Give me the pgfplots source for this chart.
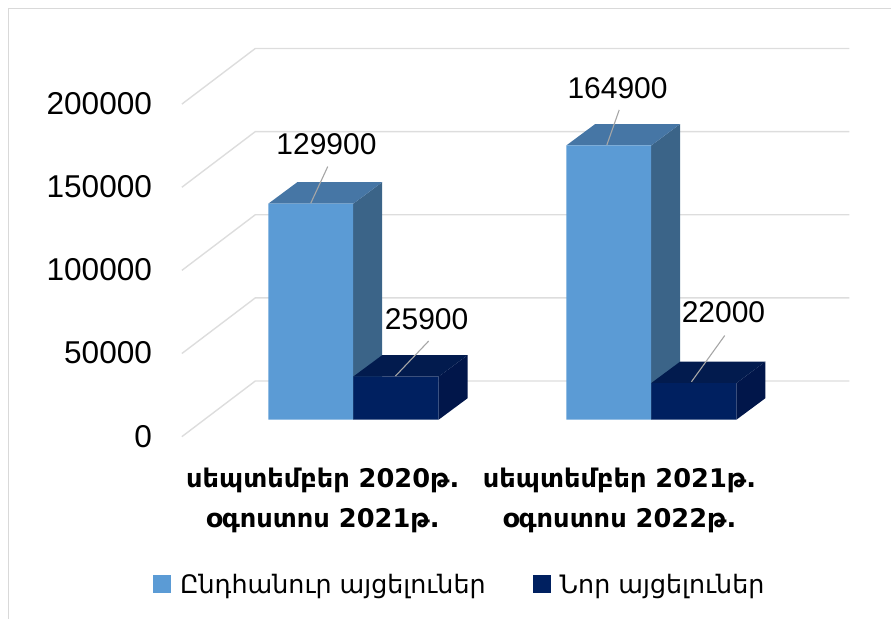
\documentclass[border=0pt]{standalone}
\usepackage{fontspec}
\usepackage{pgfplots}
\pgfplotsset{compat=1.18}
\setmainfont{DejaVu Sans}
\newfontfamily\numfont{Liberation Sans}
\definecolor{bluefront}{HTML}{5B9BD5}
\definecolor{blueside}{HTML}{3B6488}
\definecolor{bluetop}{HTML}{4676A5}
\definecolor{navyfront}{HTML}{002060}
\definecolor{navyside}{HTML}{01164A}
\definecolor{navytop}{HTML}{021B4E}
\definecolor{gridc}{HTML}{DDDDDD}
\definecolor{framec}{HTML}{D9D9D9}
\definecolor{leader}{HTML}{A6A6A6}
\begin{document}
\begin{tikzpicture}
\begin{axis}[
  scale only axis, width=892pt, height=619pt,
  xmin=0, xmax=892, ymin=-119591, ymax=252404,
  axis line style={draw=none}, tick style={draw=none}, major tick length=0pt,
  clip=false, scaled y ticks=false,
  ytick={0,50000,100000,150000,200000},
  xtick={323,620},
  xticklabels={{\bfseries սեպտեմբեր 2020թ.\\\bfseries օգոստոս 2021թ.},{\bfseries սեպտեմբեր 2021թ.\\\bfseries օգոստոս 2022թ.}},
  xticklabel style={align=center, font=\fontsize{25.7}{39.7}\selectfont, inner sep=0pt, yshift=151pt},
  yticklabel style={font=\fontsize{31.6}{31.6}\selectfont\numfont, inner sep=0pt, xshift=152.3pt, yshift=-16.5pt,
     /pgf/number format/fixed, /pgf/number format/1000 sep={}, /pgf/number format/assume math mode=true},
  legend columns=2,
  legend style={at={(axis cs:153,-99000)}, anchor=west, draw=none, fill=none, inner sep=0pt,
     font=\fontsize{25.4}{25.4}\selectfont,
     /tikz/every odd column/.append style={column sep=7pt},
     /tikz/column 2/.style={column sep=45pt}},
  legend cell align=left,
  legend image code/.code={\fill[#1] (0pt,-9pt) rectangle (18pt,9pt);},
]
% frame
\addplot[forget plot, draw=framec, line width=1.4pt] coordinates {(8.5,-119591) (8.5,247296) (892,247296)};
% gridlines
\addplot[forget plot, draw=gridc, line width=1.4pt] coordinates {(182,-10216) (255.5,23257) (850,23257)};
\addplot[forget plot, draw=gridc, line width=1.4pt] coordinates {(182,39784) (255.5,73257) (850,73257)};
\addplot[forget plot, draw=gridc, line width=1.4pt] coordinates {(182,89784) (255.5,123257) (850,123257)};
\addplot[forget plot, draw=gridc, line width=1.4pt] coordinates {(182,139784) (255.5,173257) (850,173257)};
\addplot[forget plot, draw=gridc, line width=1.4pt] coordinates {(182,189784) (255.5,223257) (850,223257)};
% blue sides and tops
\addplot[forget plot, fill=blueside, draw=none] coordinates {(353.5,129900) (382.5,142821) (382.5,12921) (353.5,0)} --cycle;
\addplot[forget plot, fill=bluetop, draw=none] coordinates {(268.5,129900) (297.5,142821) (382.5,142821) (353.5,129900)} --cycle;
\addplot[forget plot, fill=blueside, draw=none] coordinates {(651.7,164900) (680.7,177821) (680.7,12921) (651.7,0)} --cycle;
\addplot[forget plot, fill=bluetop, draw=none] coordinates {(566.7,164900) (595.7,177821) (680.7,177821) (651.7,164900)} --cycle;
% blue fronts
\addplot[ybar, bar width=85pt, fill=bluefront, draw=none] coordinates {(311,129900) (609.2,164900)};
\addlegendentry{Ընդհանուր այցելուներ}
% navy sides and tops
\addplot[forget plot, fill=navyside, draw=none] coordinates {(439,25900) (468,38821) (468,12921) (439,0)} --cycle;
\addplot[forget plot, fill=navytop, draw=none] coordinates {(353.5,25900) (382.5,38821) (468,38821) (439,25900)} --cycle;
\addplot[forget plot, fill=navyside, draw=none] coordinates {(737,22000) (766,34921) (766,12921) (737,0)} --cycle;
\addplot[forget plot, fill=navytop, draw=none] coordinates {(651.7,22000) (680.7,34921) (766,34921) (737,22000)} --cycle;
% navy fronts
\addplot[ybar, bar width=85.3pt, fill=navyfront, draw=none] coordinates {(396.2,25900) (694.4,22000)};
\addlegendentry{Նոր այցելուներ}
% leader lines
\addplot[forget plot, draw=leader, line width=1.1pt] coordinates {(328,152200) (311,130200)};
\addplot[forget plot, draw=leader, line width=1.1pt] coordinates {(619.7,186300) (607.3,165200)};
\addplot[forget plot, draw=leader, line width=1.1pt] coordinates {(429,47300) (395.7,26200)};
\addplot[forget plot, draw=leader, line width=1.1pt] coordinates {(725.3,50600) (692,22800)};
% data labels
\addplot[forget plot, draw=none, mark=none, point meta=explicit symbolic,
   nodes near coords, nodes near coords style={anchor=center, inner sep=0pt, font=\fontsize{30}{30}\selectfont\numfont}]
   coordinates {(326.7,165900)[129900] (618,199500)[164900] (427,60700)[25900] (724,64900)[22000]};
\end{axis}
\end{tikzpicture}
\end{document}
